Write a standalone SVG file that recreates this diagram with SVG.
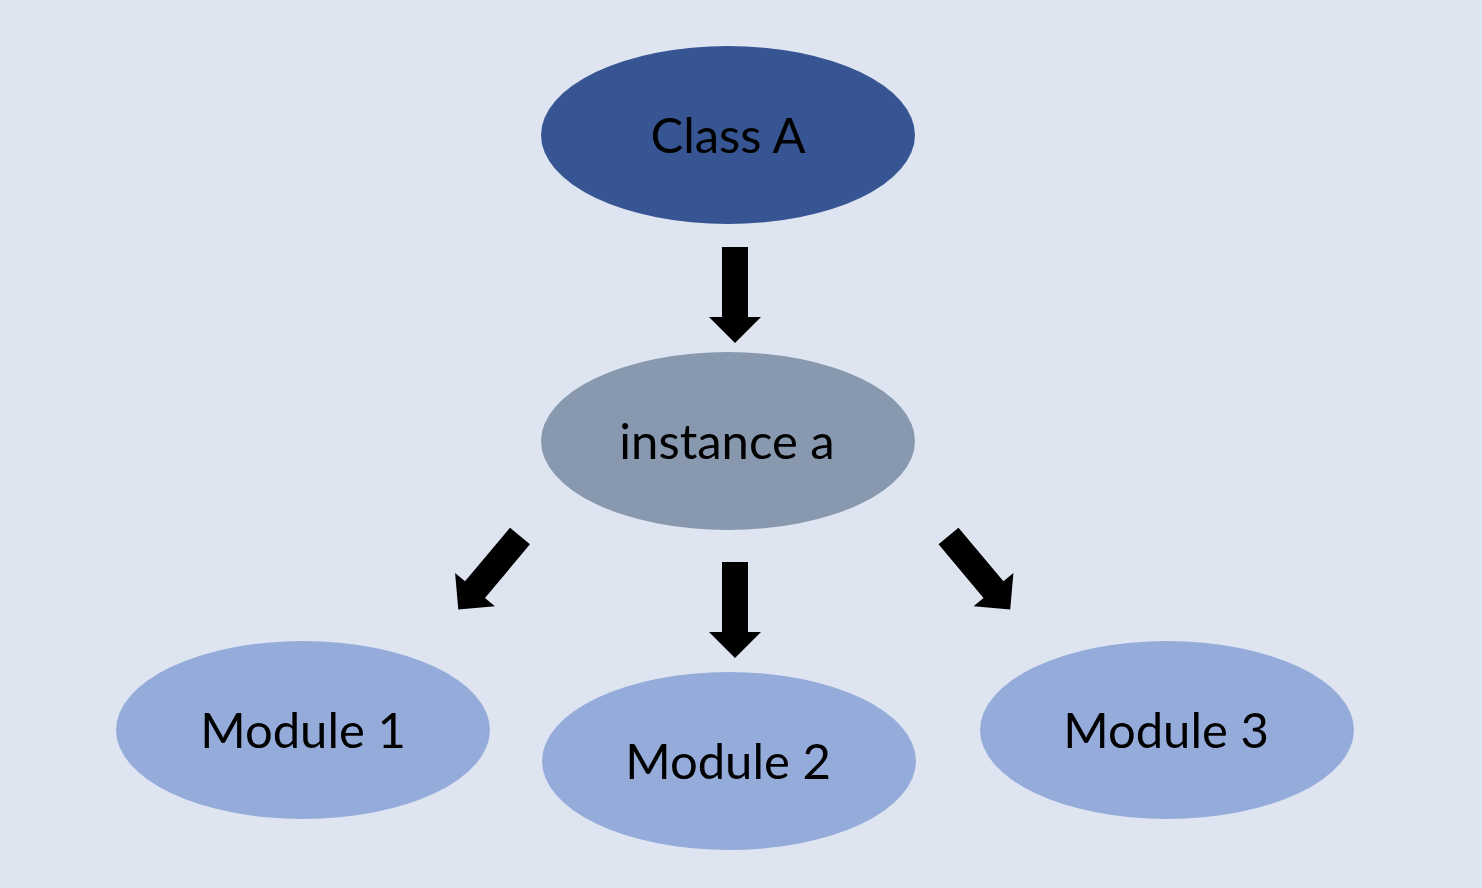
<svg xmlns="http://www.w3.org/2000/svg" width="1482" height="888" viewBox="0 0 1482 888">
<style>
.lbl{font-family:Lato,"Open Sans","Liberation Sans",sans-serif;font-size:49px;fill:#000;text-anchor:middle}
.arr{fill:#000}
</style>
<defs>
<polygon id="arrow" points="-13,0 13,0 13,70 26,70 0,96 -26,70 -13,70"/>
</defs>
<rect width="1482" height="888" fill="#DEE5F1"/>
<g id="classA"><ellipse cx="728" cy="135" rx="187" ry="89" fill="#365592"/><text class="lbl" x="728" y="153">Class A</text></g>
<g id="instanceA"><ellipse cx="728" cy="441" rx="187" ry="89" fill="#8898AF"/><text class="lbl" x="727" y="459">instance a</text></g>
<g id="module1"><ellipse cx="303" cy="730" rx="187" ry="89" fill="#95ACDA"/><text class="lbl" x="303" y="748">Module 1</text></g>
<g id="module2"><ellipse cx="729" cy="761" rx="187" ry="89" fill="#95ACDA"/><text class="lbl" x="728" y="779">Module 2</text></g>
<g id="module3"><ellipse cx="1167" cy="730" rx="187" ry="89" fill="#95ACDA"/><text class="lbl" x="1166" y="748">Module 3</text></g>
<g id="connectors" class="arr">
<use href="#arrow" transform="translate(735,247)"/>
<use href="#arrow" transform="translate(735,562)"/>
<use href="#arrow" transform="translate(520,536) rotate(40)"/>
<use href="#arrow" transform="translate(948.5,536) rotate(-40)"/>
</g>
</svg>
